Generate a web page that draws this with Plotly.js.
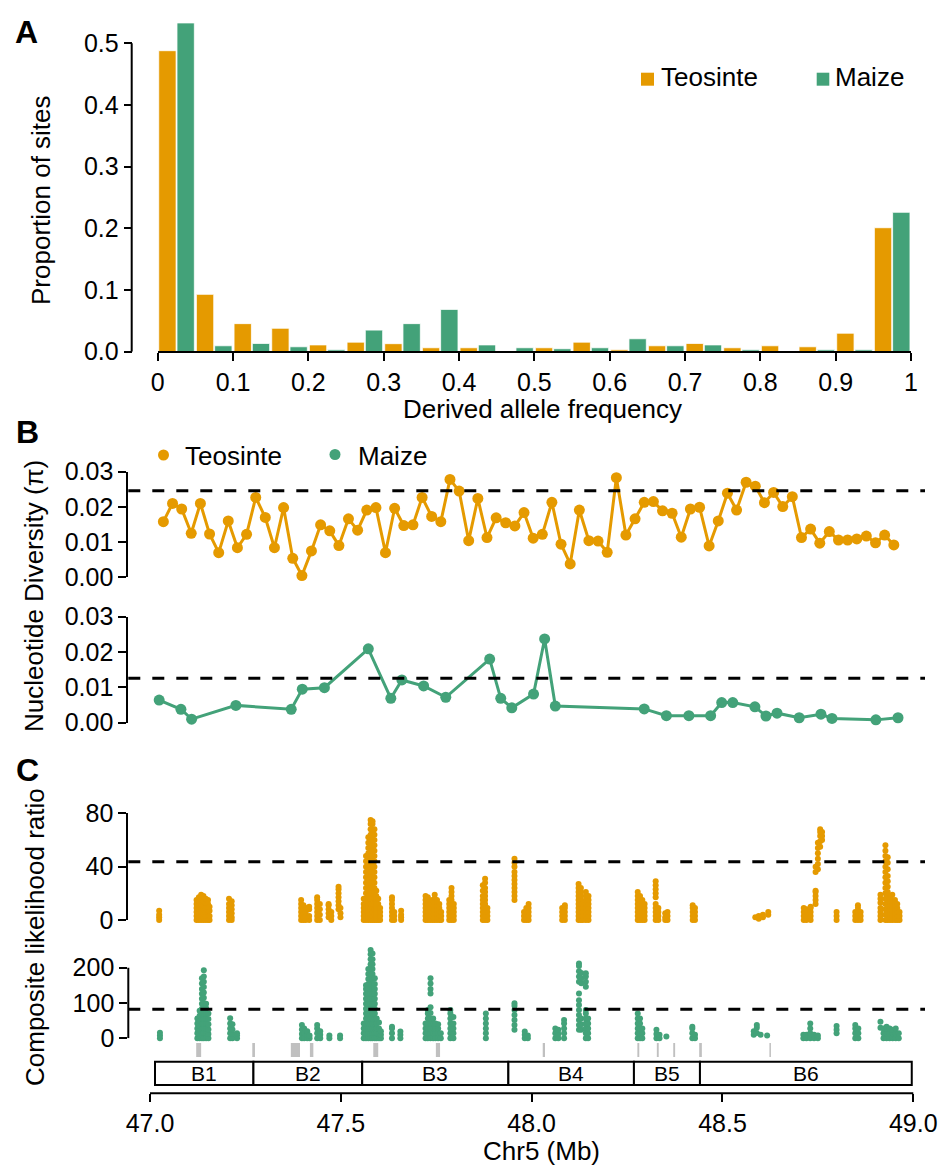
<!DOCTYPE html>
<html>
<head>
<meta charset="utf-8">
<script src="https://cdn.plot.ly/plotly-3.0.1.min.js"></script>
<style>html,body{margin:0;padding:0;background:#fff}</style>
</head>
<body>
<div id="chart" style="width:947px;height:1165px"></div>
<script>
// ---------- A: derived allele frequency spectrum (20 bins of width 0.05) ----------
const sfsBinCenters = [0.025,0.075,0.125,0.175,0.225,0.275,0.325,0.375,0.425,0.475,
                       0.525,0.575,0.625,0.675,0.725,0.775,0.825,0.875,0.925,0.975];
const sfsTeosinte = [0.488,0.093,0.0455,0.038,0.011,0.0155,0.013,0.0064,0.0064,0.0,
                     0.0064,0.0155,0.003,0.0096,0.0134,0.0064,0.0096,0.008,0.030,0.201];
const sfsMaize    = [0.533,0.0096,0.0134,0.008,0.003,0.035,0.0455,0.0686,0.011,0.0064,
                     0.0048,0.0064,0.021,0.0096,0.011,0.003,0.0,0.003,0.003,0.226];
const sfsTickVals = [0,0.1,0.2,0.3,0.4,0.5,0.6,0.7,0.8,0.9,1];
const sfsTickText = ['0','0.1','0.2','0.3','0.4','0.5','0.6','0.7','0.8','0.9','1'];
const propTickVals = [0,0.1,0.2,0.3,0.4,0.5];
const propTickText = ['0.0','0.1','0.2','0.3','0.4','0.5'];

// ---------- B: nucleotide diversity in windows along Chr5 (Mb) ----------
const piTeoPos = [47.035,47.059,47.083,47.108,47.132,47.156,47.180,47.205,47.229,47.253,
                  47.277,47.302,47.326,47.350,47.374,47.398,47.423,47.447,47.471,47.495,
                  47.520,47.544,47.568,47.592,47.617,47.641,47.665,47.689,47.713,47.738,
                  47.762,47.786,47.810,47.835,47.859,47.883,47.907,47.932,47.956,47.980,
                  48.004,48.028,48.053,48.077,48.101,48.125,48.150,48.174,48.198,48.222,
                  48.247,48.271,48.295,48.319,48.343,48.368,48.392,48.416,48.440,48.465,
                  48.489,48.513,48.537,48.562,48.586,48.610,48.634,48.658,48.683,48.707,
                  48.731,48.755,48.780,48.804,48.828,48.852,48.877,48.901,48.925,48.949];
const piTeo = [0.0158,0.0210,0.0194,0.0125,0.0210,0.0123,0.0070,0.0160,0.0084,0.0122,
               0.0227,0.0170,0.0084,0.0198,0.0054,0.0005,0.0075,0.0149,0.0132,0.0090,
               0.0166,0.0134,0.0191,0.0198,0.0070,0.0196,0.0147,0.0149,0.0227,0.0173,
               0.0158,0.0278,0.0245,0.0104,0.0224,0.0113,0.0169,0.0155,0.0146,0.0184,
               0.0111,0.0122,0.0213,0.0094,0.0038,0.0191,0.0104,0.0103,0.0071,0.0283,
               0.0120,0.0166,0.0213,0.0215,0.0189,0.0182,0.0114,0.0194,0.0199,0.0089,
               0.0160,0.0239,0.0191,0.0270,0.0259,0.0212,0.0241,0.0201,0.0229,0.0113,
               0.0137,0.0097,0.0130,0.0106,0.0106,0.0109,0.0117,0.0098,0.0120,0.0092];
const piMaizePos = [47.024,47.081,47.109,47.225,47.370,47.399,47.457,47.572,47.631,47.660,
                    47.717,47.775,47.890,47.919,47.948,48.005,48.034,48.062,48.295,48.353,
                    48.412,48.469,48.498,48.527,48.585,48.614,48.643,48.701,48.758,48.787,
                    48.902,48.960];
const piMaize = [0.0064,0.0038,0.0010,0.0049,0.0038,0.0095,0.0099,0.0209,0.0069,0.0121,
                 0.0104,0.0072,0.0180,0.0069,0.0042,0.0081,0.0237,0.0047,0.0039,0.0020,
                 0.0020,0.0020,0.0057,0.0057,0.0045,0.0019,0.0027,0.0014,0.0024,0.0012,
                 0.0008,0.0014];
const piThreshold = [0.0246, 0.0126];          // teosinte, maize
const piTickVals = [0,0.01,0.02,0.03];
const piTickText = ['0.00','0.01','0.02','0.03'];

// ---------- C: composite likelihood ratio (CLR) scan; values grouped by SNP position ----------
const clrTeoPos = [47.024,47.122,47.128,47.134,47.140,47.146,47.152,47.156,47.207,47.214,
  47.396,47.402,47.408,47.417,47.438,47.445,47.468,47.475,47.494,47.499,
  47.560,47.566,47.572,47.578,47.583,47.588,47.593,47.598,47.603,47.634,
  47.640,47.658,47.722,47.728,47.734,47.740,47.746,47.752,47.758,47.763,
  47.784,47.790,47.796,47.872,47.878,47.884,47.955,47.980,47.986,47.992,
  48.080,48.087,48.123,48.129,48.134,48.142,48.149,48.278,48.284,48.290,
  48.296,48.325,48.332,48.350,48.356,48.422,48.428,48.586,48.595,48.606,
  48.620,48.713,48.720,48.731,48.744,48.750,48.756,48.761,48.799,48.848,
  48.855,48.862,48.914,48.927,48.933,48.939,48.945,48.952,48.958,48.964];
const clrTeoVals = [
  [0,2,4,7],[0,3,6,9,12,15],[0,2,5,8,11,14,17],[0,3,6,9,12,16,19],[0,2,5,8,11,14,18],
  [0,3,6,9,13,16],[0,4,8,12,15],[0,3,7,10],[0,3,6,9,12,16],[0,2,5,8,11,14],
  [0,3,6,9,12,15],[0,2,5,8,11],[0,3,6,9],[0,3,8,10],[0,3,6,9,12,15,17],
  [0,4,8,12],[2,5,8,11,12],[0,3,6],[8,11,14,17,20,23,25],[2,5,9],
  [0,3,6,9,12,16],[0,4,8,12,16,20,24,28,32,36,40,44,48],
  [0,3,6,9,12,15,18,22,26,30,34,38,42,46,50,54,58,62],
  [0,4,8,12,16,20,24,28,32,36,40,44,48,52,56,60,64,68,72,75],
  [0,3,6,9,12,16,20,24,28,32,36,40,44,48,52,56,60,64,68,72,74],
  [0,4,8,12,16,20,24,28,32,36,40,44,48,52,56,60,64,68],
  [0,3,6,9,12,15,18,22],[0,3,6,9,12,16],[0,3,6,9],[0,3,6,9,12,15,17],
  [0,3,6],[0,2,4,7],[0,3,6,9,12,15,18],[0,3,6,9,12,15,17],[0,2,5,8,11,14],
  [0,3,6,9,12,15],[0,3,6,9,12,16,19],[0,3,6,9,12,15],[0,3,6,9,12],[0,3,6],
  [0,3,6,9,12,15],[0,3,6,9,12,15,18,21,24],[0,3,6,9,12],[0,3,6,9,12,15,18,22,26],
  [0,3,6,9,12,15,18,21,24,28,31],[0,3,6,9],[15,18,21,24,27,30,33,36,40,43,46],
  [0,3,6],[0,3,6,9],[0,3,6,9,12],
  [0,3,6,9],[0,3,6,9,11],[0,3,6,9,12,15,18,21,24,27],[0,3,6,9,12,15,18,21,24],
  [0,3,6,9,12],[0,3,6,9,12,15,18,21],[0,3,6,9,12,15,18],[0,3,6,9,12,15,18,21],
  [0,3,6,9,12,15,18],[0,3,6,9,12,15],
  [0,3,6,9,12],[0,3,6,9,12,17,20,23,26,29],[0,3,6,9],[0,2,5],[0,3,6],
  [0,3,6,9,11],[0,3,6,9],[2],[1,3],[2,4],
  [4,6],[0,3,6,9],[0,3,6,8],[0,3,6,9,10],[12,15,18,21,22,36,40],
  [38,42,46,50,54,58],[55,59,63,66,68],[60,63,66],[0,3,6],[0,3,6],
  [0,3,6,9,11],[0,3,6],[0,3,6,9,13,16,19],
  [0,4,8,12,16,20,24,28,32,36,40,44,48,52,56],
  [0,3,6,9,12,15,18,21,25,29,33,38,43,47],
  [0,3,6,9,12,15,18],[0,3,6,9,12,15,19],[0,3,6,9,12,15],[0,3,6,9,12],[0,3,6]
];
const clrMaizePos = [47.026,47.124,47.130,47.136,47.141,47.147,47.153,47.210,47.216,47.228,
  47.398,47.404,47.412,47.418,47.438,47.446,47.470,47.498,47.560,47.566,
  47.572,47.578,47.583,47.589,47.594,47.600,47.605,47.634,47.656,47.722,
  47.728,47.735,47.742,47.748,47.755,47.762,47.787,47.795,47.880,47.955,
  47.982,47.990,48.062,48.070,48.085,48.124,48.130,48.142,48.148,48.278,
  48.284,48.290,48.327,48.335,48.353,48.421,48.428,48.582,48.590,48.600,
  48.617,48.712,48.720,48.730,48.740,48.750,48.799,48.848,48.856,48.914,
  48.922,48.930,48.938,48.946,48.954,48.962];
const clrMaizeVals = [
  [0,8,16],[0,14,28,42,56],[0,12,24,36,50,64,78],
  [0,14,28,42,56,70,84,98,112,126,140,155,170],
  [0,14,28,42,56,70,84,100,115,130,145,160,175,193],
  [0,14,28,42,56,70,85,98],[0,12,25,40,55,70],[0,14,28,42,57],[0,12,25,40],[0,8,14],
  [0,12,25,38],[0,14,28],[0,10,20],[0,8],[0,14,28,38],[0,10,20],[0,8],[0,8],
  [0,14,28,42],[0,14,28,42,56,70,84,98,112,126,140,150],
  [0,14,28,42,56,70,84,98,112,126,140,154,168,182,196],
  [0,14,28,42,56,70,84,98,112,126,140,154,168,182,196,210,224,238,250],
  [0,14,28,42,56,70,84,98,112,126,140,154,168,182,196,210,224,240],
  [0,14,28,42,56,70,84,98,112,126,140,154,170],
  [0,14,28,42,56],[0,14,28,45],[0,10,20],[0,14,28,33],[0,10,19],[0,14,28,42],
  [0,14,28,42,56,70,80],[0,14,28,42,56,72,88,127,140,155,170],[0,14,28,42,56],
  [0,14,28,42],[0,14,28,40],[0,14],[0,14,28,42,56,70,80],[0,14,28,42,60],
  [0,14,28,42,56,70],[24,38,52,66,80,92,99],
  [0,10,19],[0,8],[0,14,28],[0,12,24],[0,14,28,42,52],
  [24,38,52,66,80,94,108,127,160,175,190,205,212],[24,40,56,156,170,185],
  [0,14,28,42,56,70,80,146,160,175,184],[0,14,28,42,56],[0,14,28,42,56,70],
  [0,14,28,42,56],[0,14,28],[0,12,24],[0,10],[5],[0,14,28,33],[0,10],[10,20],[15,30,38],[10],
  [8],[0,10],[0,10],[0,14,28,42],[0,10],[0,8],[14,24,35],[0,14,28,38],[0,14,28],[30,47],
  [0,14,28],[0,14,28,33],[0,14,28],[0,14,24],[0,14,28],[0,14]
];
const clrThreshold = [43.7, 82];               // teosinte, maize
const geneStart = [47.121,47.268,47.369,47.419,47.585,47.749,48.029,48.277,48.328,48.371,48.439,48.623];
const geneEnd   = [47.134,47.275,47.393,47.428,47.598,47.760,48.035,48.282,48.333,48.376,48.446,48.627];
const blockNames = ['B1','B2','B3','B4','B5','B6'];
const blockStart = [47.013,47.271,47.556,47.939,48.268,48.441];
const blockEnd   = [47.271,47.556,47.939,48.268,48.441,48.996];
const chrTickVals = [47.0,47.5,48.0,48.5,49.0];
const chrTickText = ['47.0','47.5','48.0','48.5','49.0'];

// ---------- styling ----------
const ORANGE = '#E59A00';
const GREEN = '#43A279';
const FONT = 'Liberation Sans, Arial, Helvetica, sans-serif';
const W = 947, H = 1165;
const fx = p => p / W;          // page pixel -> paper x
const fy = p => 1 - p / H;      // page pixel -> paper y

function flatten(pos, vals) {
  const x = [], y = [];
  pos.forEach((p, i) => vals[i].forEach(v => { x.push(p); y.push(v); }));
  return {x, y};
}
const clrTeo = flatten(clrTeoPos, clrTeoVals);
const clrMaize = flatten(clrMaizePos, clrMaizeVals);

const axisCommon = {
  showgrid: false, zeroline: false, showline: true, linecolor: '#000', linewidth: 2,
  ticks: 'outside', ticklen: 8, tickwidth: 2, tickcolor: '#000',
  tickfont: {family: FONT, size: 25, color: '#000'}, fixedrange: true
};

const traces = [
  {type: 'bar', x: sfsBinCenters, y: sfsTeosinte, name: 'Teosinte', xaxis: 'x', yaxis: 'y',
   marker: {color: ORANGE, line: {color: '#fff', width: 0.8}}},
  {type: 'bar', x: sfsBinCenters, y: sfsMaize, name: 'Maize', xaxis: 'x', yaxis: 'y',
   marker: {color: GREEN, line: {color: '#fff', width: 0.8}}},
  {type: 'scatter', mode: 'lines+markers', x: piTeoPos, y: piTeo, xaxis: 'x2', yaxis: 'y2',
   line: {color: ORANGE, width: 3}, marker: {color: ORANGE, size: 11}, cliponaxis: false},
  {type: 'scatter', mode: 'lines+markers', x: piMaizePos, y: piMaize, xaxis: 'x2', yaxis: 'y3',
   line: {color: GREEN, width: 3}, marker: {color: GREEN, size: 11}, cliponaxis: false},
  {type: 'scatter', mode: 'markers', x: clrTeo.x, y: clrTeo.y, xaxis: 'x2', yaxis: 'y4',
   marker: {color: ORANGE, size: 6}, cliponaxis: false},
  {type: 'scatter', mode: 'markers', x: clrMaize.x, y: clrMaize.y, xaxis: 'x2', yaxis: 'y5',
   marker: {color: GREEN, size: 6}, cliponaxis: false}
];

const shapes = [];
// axis lines that stop at the last tick while the data run past it
shapes.push({type: 'line', xref: 'paper', yref: 'y', x0: fx(131.7), x1: fx(131.7),
  y0: 0, y1: propTickVals[propTickVals.length - 1], line: {color: '#000', width: 2}});
shapes.push({type: 'line', xref: 'paper', yref: 'y5', x0: fx(128.3), x1: fx(128.3),
  y0: 0, y1: 200, line: {color: '#000', width: 2}});
shapes.push({type: 'line', xref: 'x2', yref: 'paper', x0: chrTickVals[0], x1: chrTickVals[4],
  y0: fy(1093.3), y1: fy(1093.3), line: {color: '#000', width: 2}});

const dashLine = {color: '#000', width: 3, dash: '12px,12px'};
[['y2', piThreshold[0]], ['y3', piThreshold[1]], ['y4', clrThreshold[0]], ['y5', clrThreshold[1]]]
  .forEach(([ax, v]) => shapes.push({type: 'line', xref: 'x2 domain', x0: 0, x1: 1,
    yref: ax, y0: v, y1: v, line: dashLine, layer: 'above'}));
geneStart.forEach((s, i) => shapes.push({type: 'rect', xref: 'x2', yref: 'paper',
  x0: s, x1: geneEnd[i], y0: fy(1057), y1: fy(1043), fillcolor: '#C0C0C0', line: {width: 0}}));
blockStart.forEach((s, i) => shapes.push({type: 'rect', xref: 'x2', yref: 'paper',
  x0: s, x1: blockEnd[i], y0: fy(1085), y1: fy(1061.7), fillcolor: '#fff',
  line: {color: '#000', width: 2}}));
// legend keys
shapes.push({type: 'rect', xref: 'paper', yref: 'paper', x0: fx(641), x1: fx(654),
  y0: fy(85.7), y1: fy(72.7), fillcolor: ORANGE, line: {width: 0}});
shapes.push({type: 'rect', xref: 'paper', yref: 'paper', x0: fx(816.7), x1: fx(829.3),
  y0: fy(85.7), y1: fy(72.7), fillcolor: GREEN, line: {width: 0}});
shapes.push({type: 'circle', xref: 'paper', yref: 'paper', x0: fx(158), x1: fx(169),
  y0: fy(460.5), y1: fy(449.5), fillcolor: ORANGE, line: {width: 0}});
shapes.push({type: 'circle', xref: 'paper', yref: 'paper', x0: fx(329.5), x1: fx(340.5),
  y0: fy(460), y1: fy(449), fillcolor: GREEN, line: {width: 0}});

const txt = (text, x, y, opts) => Object.assign({text, xref: 'paper', yref: 'paper',
  x: fx(x), y: fy(y), showarrow: false, xanchor: 'center', yanchor: 'middle',
  font: {family: FONT, size: 26, color: '#000'}}, opts || {});

const annotations = [
  txt('<b>A</b>', 26, 32, {font: {family: FONT, size: 32, color: '#000'}}),
  txt('<b>B</b>', 27, 432, {font: {family: FONT, size: 32, color: '#000'}}),
  txt('<b>C</b>', 27, 770, {font: {family: FONT, size: 32, color: '#000'}}),
  txt('Proportion of sites', 41, 200, {textangle: -90}),
  txt('Derived allele frequency', 542, 409),
  txt('Nucleotide Diversity (π)', 34, 596, {textangle: -90}),
  txt('Composite likelihood ratio', 35, 937, {textangle: -90}),
  txt('Chr5 (Mb)', 541, 1151),
  txt('Teosinte', 659, 77, {xanchor: 'left'}),
  txt('Maize', 833, 77, {xanchor: 'left'}),
  txt('Teosinte', 183, 456, {xanchor: 'left'}),
  txt('Maize', 356, 456, {xanchor: 'left'})
];
blockNames.forEach((n, i) => annotations.push({text: n, xref: 'x2', yref: 'paper',
  x: (blockStart[i] + blockEnd[i]) / 2, y: fy(1073.3), showarrow: false,
  xanchor: 'center', yanchor: 'middle', font: {family: FONT, size: 21, color: '#000'}}));

const layout = {
  width: W, height: H, margin: {l: 0, r: 0, t: 0, b: 0},
  paper_bgcolor: '#fff', plot_bgcolor: 'rgba(0,0,0,0)',
  showlegend: false, hovermode: false,
  barmode: 'group', bargap: 0.03, bargroupgap: 0.05,
  font: {family: FONT, size: 25, color: '#000'},
  xaxis: Object.assign({}, axisCommon, {domain: [fx(157.7), fx(911)], range: [0, 1],
    anchor: 'free', position: fy(351.7), tickmode: 'array', tickvals: sfsTickVals, ticktext: sfsTickText}),
  // proportion axis: 0.5 sits at page y 43.3, the domain runs higher so the tallest bar is not cut
  yaxis: Object.assign({}, axisCommon, {domain: [fy(351.7), fy(20)],
    range: [0, 0.5 * (351.7 - 20) / (351.7 - 43.3)], showline: false,
    anchor: 'free', position: fx(131.7), tickmode: 'array', tickvals: propTickVals, ticktext: propTickText}),
  xaxis2: Object.assign({}, axisCommon, {domain: [fx(128.3), fx(925)], range: [46.9431, 49.0307],
    showline: false, anchor: 'free', position: fy(1093.3),
    tickmode: 'array', tickvals: chrTickVals, ticktext: chrTickText}),
  yaxis2: Object.assign({}, axisCommon, {domain: [fy(577.3), fy(471.7)], range: [0, 0.03],
    anchor: 'x2', tickmode: 'array', tickvals: piTickVals, ticktext: piTickText}),
  yaxis3: Object.assign({}, axisCommon, {domain: [fy(722.7), fy(616.7)], range: [0, 0.03],
    anchor: 'x2', tickmode: 'array', tickvals: piTickVals, ticktext: piTickText}),
  yaxis4: Object.assign({}, axisCommon, {domain: [fy(920), fy(813.3)], range: [0, 80],
    anchor: 'x2', tickmode: 'array', tickvals: [0, 40, 80]}),
  // maize CLR: 200 sits at page y 967.7, the domain runs higher for the 250 peak
  yaxis5: Object.assign({}, axisCommon, {domain: [fy(1038.3), fy(940)],
    range: [0, 200 * (1038.3 - 940) / (1038.3 - 967.7)], showline: false,
    anchor: 'x2', tickmode: 'array', tickvals: [0, 100, 200]}),
  shapes, annotations
};

Plotly.newPlot('chart', traces, layout, {displayModeBar: false, staticPlot: true});
</script>
</body>
</html>
